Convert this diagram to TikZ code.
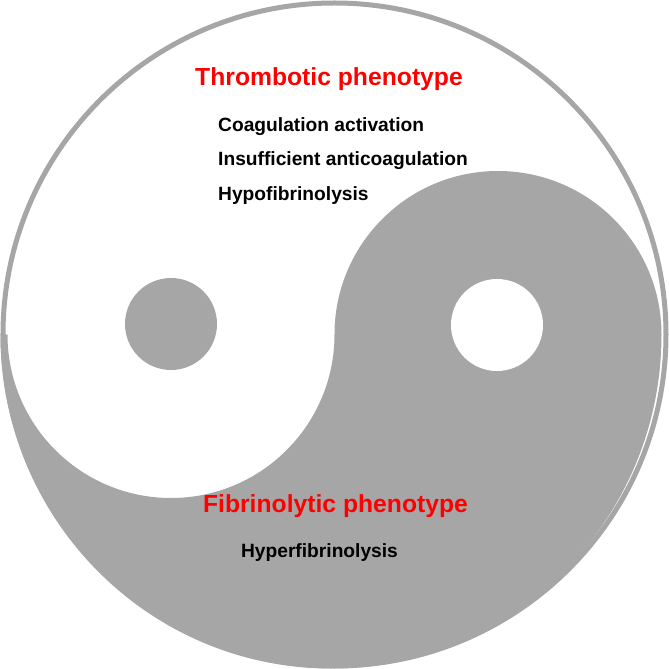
\documentclass[tikz,border=0pt]{standalone}
\usepackage{fontspec}
\setmainfont{Liberation Sans}
\definecolor{yygrey}{HTML}{A6A6A6}
\definecolor{yyred}{HTML}{FF0000}
\tikzset{
  head/.style={font=\bfseries\fontsize{24.7}{28}\selectfont, text=yyred, inner sep=0pt},
  item/.style={font=\bfseries\fontsize{19.2}{22}\selectfont, text=black, inner sep=0pt},
}

\begin{document}
\begin{tikzpicture}[x=1pt,y=1pt]
\useasboundingbox (-334.5,-334.5) rectangle (334.5,334.5);
% Outer ring
\draw[yygrey, line width=5pt] (0,0) circle (331.5);
% Grey half with S-curve
\fill[yygrey] (-334,0) arc[start angle=180, end angle=360, x radius=330.5, y radius=334]
  arc (0:180:163.5)
  arc (0:-180:163.5) -- cycle;
% Dots
\fill[yygrey] (-163.5,10.5) circle (46);
\fill[white] (162.5,9.5) circle (46);
% Thrombotic side
\node[head] (thromb) at (-5.5,255.5) {Thrombotic phenotype};
\node[item, anchor=west] (coagact) at (-116.5,208) {Coagulation activation};
\node[item, anchor=west] (anticoag) at (-116.5,173.5) {Insufficient anticoagulation};
\node[item, anchor=west] (hypofib) at (-116.5,138.5) {Hypofibrinolysis};
% Fibrinolytic side
\node[head] (fibrin) at (1,-172) {Fibrinolytic phenotype};
\node[item] (hyperfib) at (-15,-218.5) {Hyperfibrinolysis};
\end{tikzpicture}
\end{document}
